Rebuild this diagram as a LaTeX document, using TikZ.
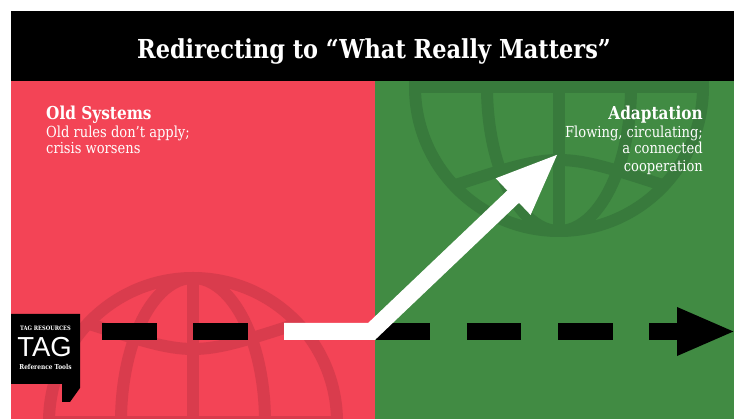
\documentclass[tikz,border=0pt]{standalone}
\usepackage{fontspec}
\usetikzlibrary{arrows.meta,positioning}
\newfontfamily\slabfont[FakeStretch=0.86]{DejaVu Serif}
\newfontfamily\logofont{Liberation Sans}
\definecolor{oldred}{RGB}{243,68,86}
\definecolor{oldredglobe}{RGB}{217,60,77}
\definecolor{adaptgreen}{RGB}{65,139,67}
\definecolor{adaptgreenglobe}{RGB}{56,122,60}
\begin{document}
\begin{tikzpicture}[
      x=1pt,y=-1pt,
      globeline/.style={line width=12pt},
      globe/.pic={
        \begin{scope}
          \clip (-150,-150) rectangle (150,6);
          \draw[globeline,pic actions] (0,0) circle[radius=144pt];
          \draw[globeline,pic actions] (0,0) circle[x radius=72pt,y radius=144pt];
          \draw[globeline,pic actions] (0,-150) -- (0,0);
          \draw[globeline,pic actions] (-150,0) -- (150,0);
          \draw[globeline,pic actions] (-105,-98.5) .. controls (0,-64.5) .. (105,-98.5);
        \end{scope}
      },
      headtext/.style={font=\slabfont\bfseries\fontsize{17.8}{19}\selectfont,text=white,inner sep=0pt},
      bodytext/.style={font=\slabfont\fontsize{15.2}{17}\selectfont,text=white,inner sep=0pt},
      logotext/.style={font=\slabfont\bfseries\fontsize{6}{7}\selectfont,text=white,inner sep=0pt},
      dashline/.style={line width=17pt,dash pattern=on 54.6pt off 36.6pt,-{Triangle[length=59pt,width=44pt]}},
      whitearrow/.style={line width=17pt,draw=white,line join=miter,-{Triangle[length=64pt,width=45pt]}}
    ]
      \useasboundingbox (0,0) rectangle (734,419);
      \fill[oldred] (11,81) rectangle (375,419);
      \fill[adaptgreen] (375,81) rectangle (734,419);
      \pic[draw=oldredglobe] at (193,422) {globe};
      \pic[draw=adaptgreenglobe,yscale=-1] at (559,87) {globe};
      \fill[black] (11,11) rectangle (734,81);
      \node[font=\slabfont\bfseries\fontsize{26.1}{28}\selectfont,text=white,inner sep=0pt,anchor=base] (title) at (374,59) {Redirecting to “What Really Matters”};
      \node[headtext,anchor=base west] (oldhead) at (46,120) {Old Systems};
      \node[bodytext,anchor=base west] (oldbody1) at (46,138) {Old rules don’t apply;};
      \node[bodytext,anchor=base west] (oldbody2) at (46,154) {crisis worsens};
      \node[headtext,anchor=base east] (adapthead) at (703,120) {Adaptation};
      \node[bodytext,anchor=base east] (adaptbody1) at (703,138) {Flowing, circulating;};
      \node[bodytext,anchor=base east] (adaptbody2) at (703,154) {a connected};
      \node[bodytext,anchor=base east] (adaptbody3) at (703,172) {cooperation};
      \coordinate (dashstart) at (102,331.5);
      \coordinate (dashend) at (736,331.5);
      \coordinate (whitestart) at (284,331.5);
      \coordinate (whitebend) at (371.5,331.5);
      \coordinate (whitetip) at (559.5,152.5);
      \draw[dashline] (dashstart) -- (dashend);
      \draw[whitearrow] (whitestart) -- (whitebend) -- (whitetip);
      \fill[black] (11,314) -- (80,314) -- (80,388) -- (70,402) -- (62,402) -- (62,384) -- (11,384) -- cycle;
      \node[logotext,anchor=base] (logotop) at (45.5,331) {TAG RESOURCES};
      \node[font=\logofont\fontsize{27.5}{28}\selectfont,text=white,inner sep=0pt,anchor=base] (logotag) at (44.5,357) {TAG};
      \node[logotext,font=\slabfont\bfseries\fontsize{6.8}{7}\selectfont,anchor=base] (logobottom) at (45.5,370) {Reference Tools};
    \end{tikzpicture}
\end{document}
